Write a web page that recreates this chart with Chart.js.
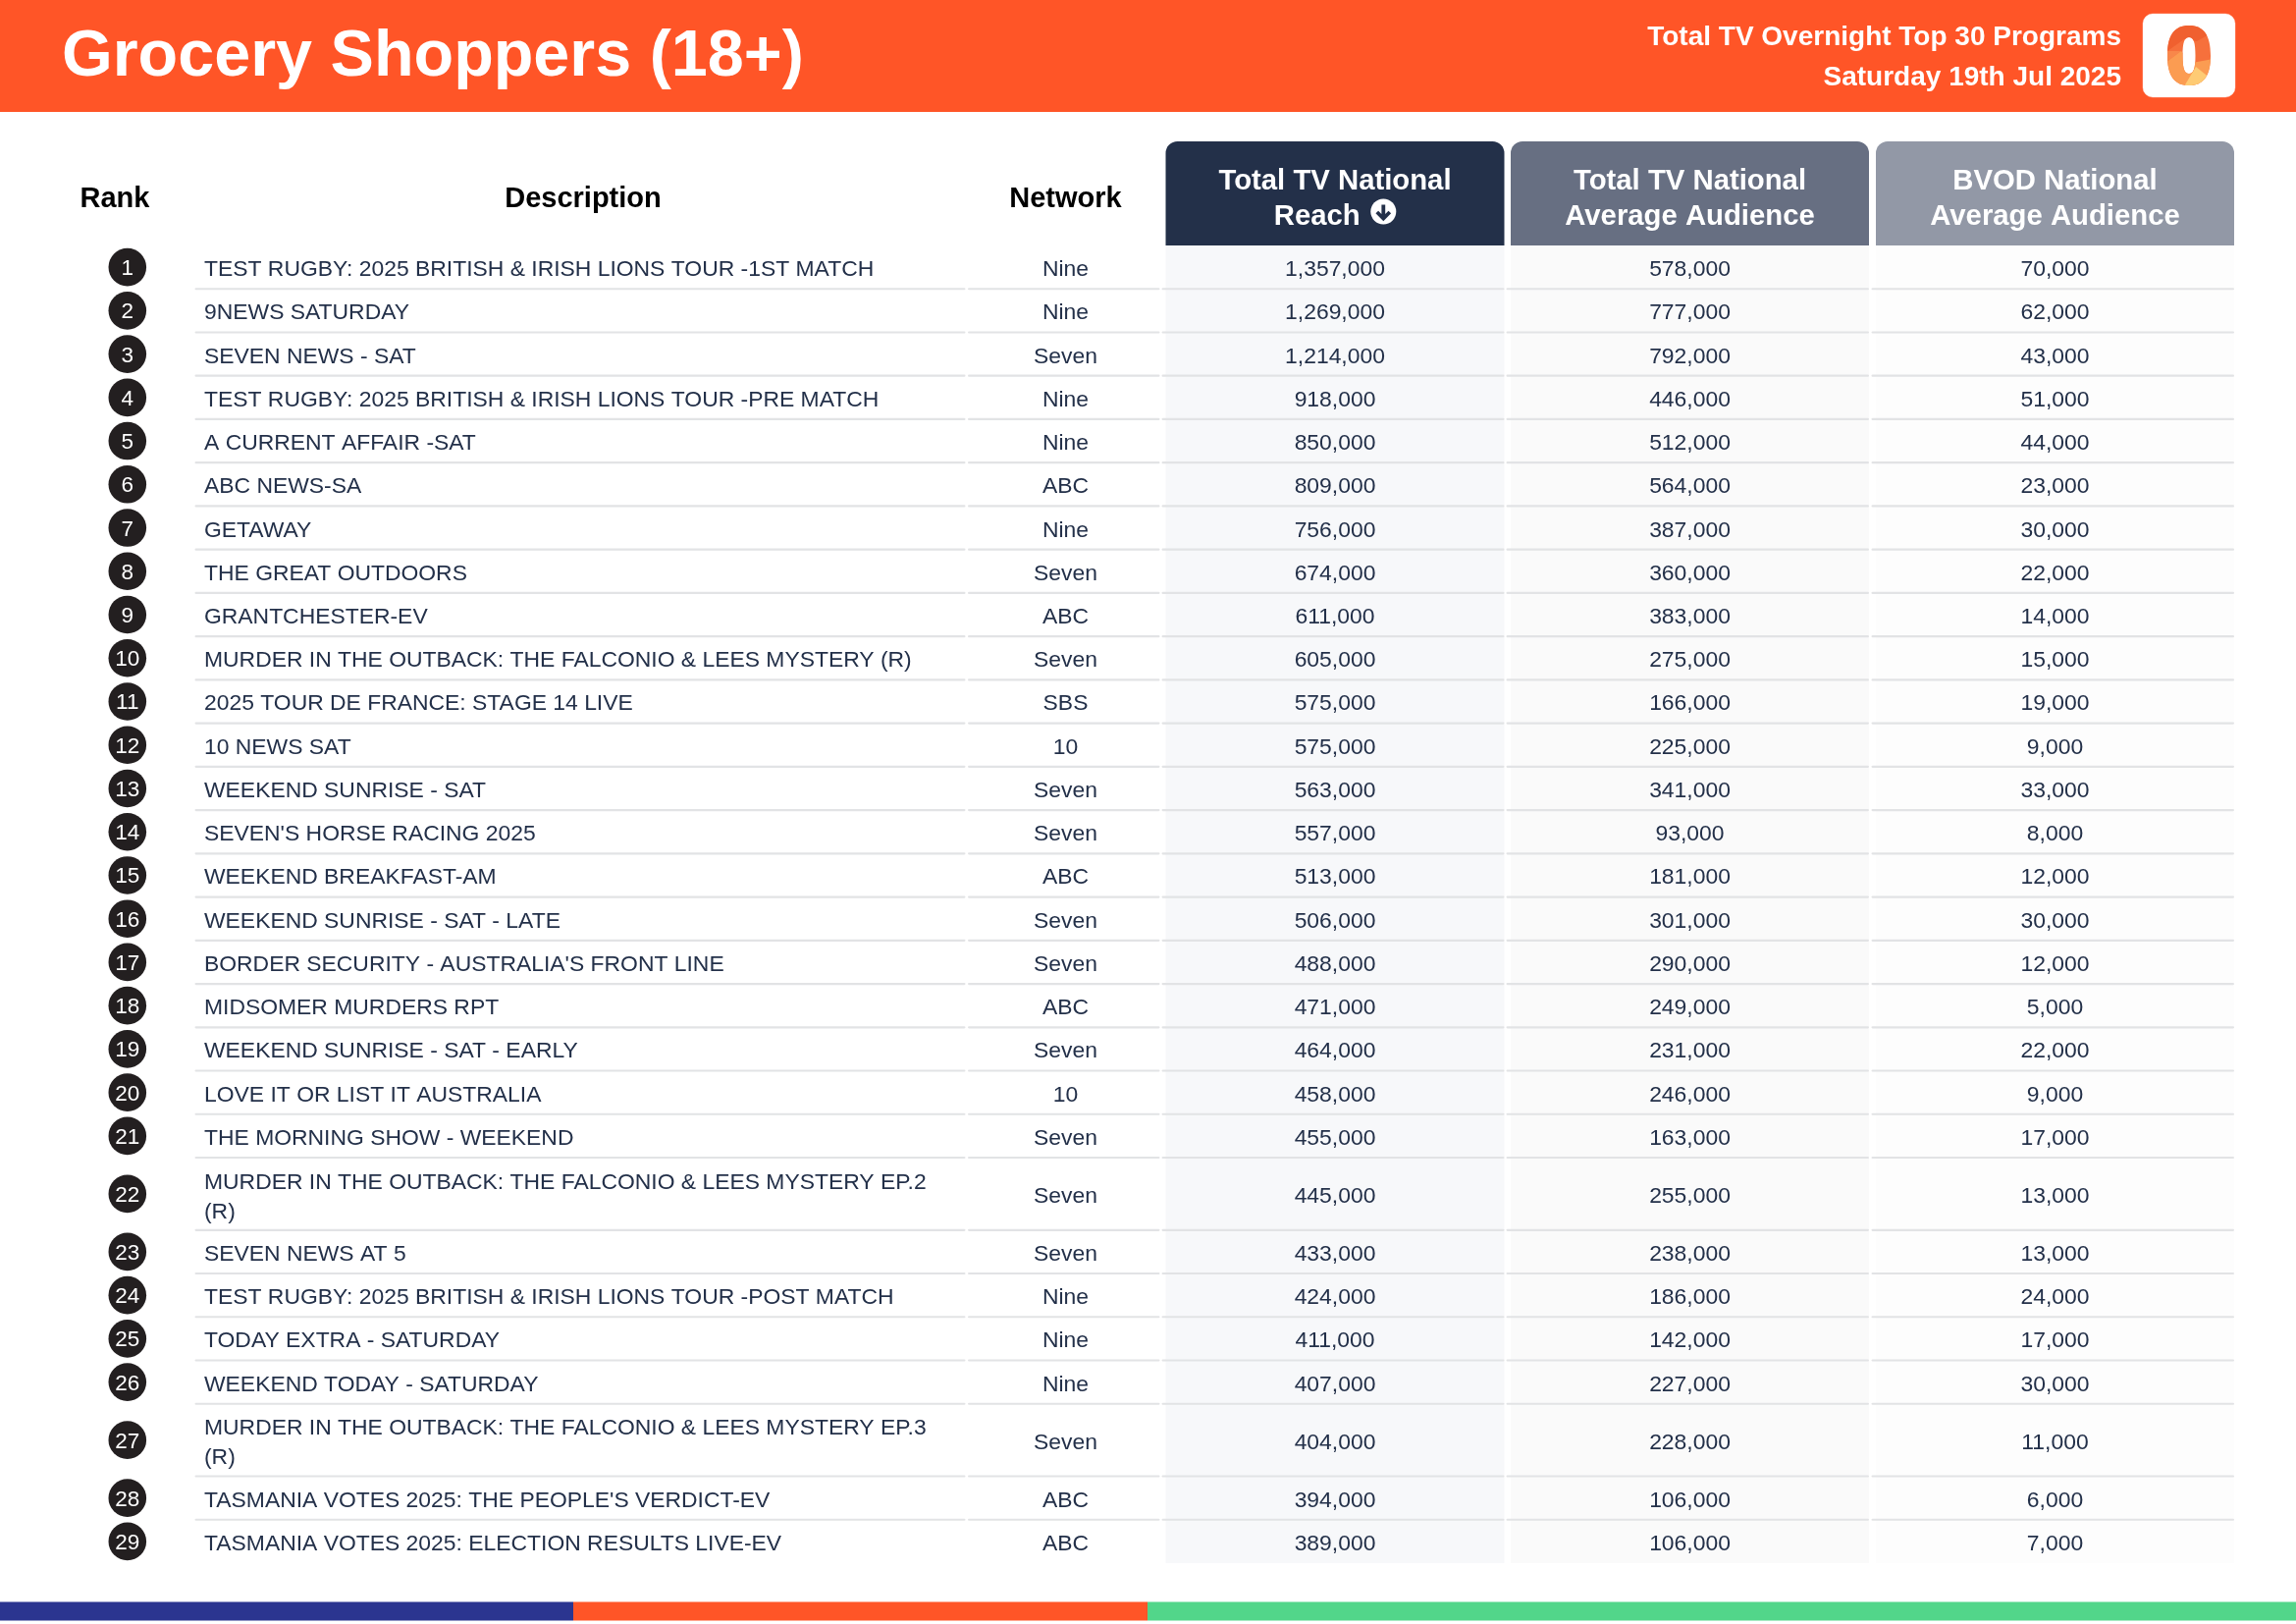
<!DOCTYPE html>
<html>
<head>
<meta charset="utf-8">
<title>Grocery Shoppers (18+)</title>
<style>
	html, body { margin: 0; padding: 0; background: #fff; }
	canvas { display: block; }
</style>
<script src="https://cdn.jsdelivr.net/npm/chart.js@4/dist/chart.umd.min.js"></script>
</head>
<body>
<canvas id="chart" width="2339" height="1654"></canvas>
<script>
const pageTitle = 'Grocery Shoppers (18+)';
const subtitle = ['Total TV Overnight Top 30 Programs', 'Saturday 19th Jul 2025'];
const plainHeaders = ['Rank', 'Description', 'Network'];
const metricHeaders = [
	['Total TV National', 'Reach'],
	['Total TV National', 'Average Audience'],
	['BVOD National', 'Average Audience'],
];

const ranks = [1, 2, 3, 4, 5, 6, 7, 8, 9, 10, 11, 12, 13, 14, 15, 16, 17, 18, 19, 20, 21, 22, 23, 24, 25, 26, 27, 28, 29];

const descriptions = [
	'TEST RUGBY: 2025 BRITISH & IRISH LIONS TOUR -1ST MATCH',
	'9NEWS SATURDAY',
	'SEVEN NEWS - SAT',
	'TEST RUGBY: 2025 BRITISH & IRISH LIONS TOUR -PRE MATCH',
	'A CURRENT AFFAIR -SAT',
	'ABC NEWS-SA',
	'GETAWAY',
	'THE GREAT OUTDOORS',
	'GRANTCHESTER-EV',
	'MURDER IN THE OUTBACK: THE FALCONIO & LEES MYSTERY (R)',
	'2025 TOUR DE FRANCE: STAGE 14 LIVE',
	'10 NEWS SAT',
	'WEEKEND SUNRISE - SAT',
	"SEVEN'S HORSE RACING 2025",
	'WEEKEND BREAKFAST-AM',
	'WEEKEND SUNRISE - SAT - LATE',
	"BORDER SECURITY - AUSTRALIA'S FRONT LINE",
	'MIDSOMER MURDERS RPT',
	'WEEKEND SUNRISE - SAT - EARLY',
	'LOVE IT OR LIST IT AUSTRALIA',
	'THE MORNING SHOW - WEEKEND',
	'MURDER IN THE OUTBACK: THE FALCONIO & LEES MYSTERY EP.2 (R)',
	'SEVEN NEWS AT 5',
	'TEST RUGBY: 2025 BRITISH & IRISH LIONS TOUR -POST MATCH',
	'TODAY EXTRA - SATURDAY',
	'WEEKEND TODAY - SATURDAY',
	'MURDER IN THE OUTBACK: THE FALCONIO & LEES MYSTERY EP.3 (R)',
	"TASMANIA VOTES 2025: THE PEOPLE'S VERDICT-EV",
	'TASMANIA VOTES 2025: ELECTION RESULTS LIVE-EV',
];

const networks = ['Nine', 'Nine', 'Seven', 'Nine', 'Nine', 'ABC', 'Nine', 'Seven', 'ABC', 'Seven', 'SBS', '10', 'Seven', 'Seven', 'ABC', 'Seven', 'Seven', 'ABC', 'Seven', '10', 'Seven', 'Seven', 'Seven', 'Nine', 'Nine', 'Nine', 'Seven', 'ABC', 'ABC'];

const reach = [1357000, 1269000, 1214000, 918000, 850000, 809000, 756000, 674000, 611000, 605000, 575000, 575000, 563000, 557000, 513000, 506000, 488000, 471000, 464000, 458000, 455000, 445000, 433000, 424000, 411000, 407000, 404000, 394000, 389000];
const averageAudience = [578000, 777000, 792000, 446000, 512000, 564000, 387000, 360000, 383000, 275000, 166000, 225000, 341000, 93000, 181000, 301000, 290000, 249000, 231000, 246000, 163000, 255000, 238000, 186000, 142000, 227000, 228000, 106000, 106000];
const bvodAudience = [70000, 62000, 43000, 51000, 44000, 23000, 30000, 22000, 14000, 15000, 19000, 9000, 33000, 8000, 12000, 30000, 12000, 5000, 22000, 9000, 17000, 13000, 13000, 24000, 17000, 30000, 11000, 6000, 7000];

const FONT = '"Liberation Sans", Arial, sans-serif';
const INK = '#233049';
const CELL_FONT = `22.9px ${FONT}`;

// x positions on the 0-2339 x axis
const RANK_X = 129.8;
const DESC_X = 208;
const NETWORK_X = 1085.5;
const metricCols = [
	{ left: 1187.5, right: 1532.5, ruleLeft: 1183.5, head: '#233049', body: '#f7f8fa' },
	{ left: 1539, right: 1904, ruleLeft: 1534.5, head: '#676f82', body: '#fafafa' },
	{ left: 1911, right: 2276, ruleLeft: 1906.5, head: '#9298a6', body: '#fdfdfd' },
];
const metricCenter = col => (col.left + col.right) / 2;

// long titles wrap onto a second line and the row grows
const measureCtx = document.createElement('canvas').getContext('2d');
measureCtx.font = CELL_FONT;

function wrapText(text, maxWidth) {
	const lines = [''];
	text.split(' ').forEach((word) => {
		const next = lines[lines.length - 1] ? `${lines[lines.length - 1]} ${word}` : word;
		if (measureCtx.measureText(next).width > maxWidth) {
			lines.push(word);
		} else {
			lines[lines.length - 1] = next;
		}
	});
	return lines;
}

const wrapped = descriptions.map(d => wrapText(d, 760));

// y axis counts rows, a two line row is 1.668 rows tall
const rowEdges = [0];
wrapped.forEach((lines) => {
	rowEdges.push(rowEdges[rowEdges.length - 1] + (lines.length > 1 ? 1.668 : 1));
});
const rowCenters = ranks.map((_, i) => (rowEdges[i] + rowEdges[i + 1]) / 2);

const column = (label, x, values, extra) => ({
	label,
	data: values.map((value, i) => ({ x, y: rowCenters[i], text: value })),
	pointRadius: 0,
	...extra,
});

const money = v => v.toLocaleString('en-US');

const datasets = [
	column('Rank', RANK_X, ranks, {
		pointRadius: 19.3,
		pointBackgroundColor: '#231f20',
		pointBorderWidth: 0,
		cellColor: '#fff',
		cellFont: `22.5px ${FONT}`,
		cellAlign: 'center',
		cellDrop: 8,
	}),
	column('Description', DESC_X, wrapped, { cellAlign: 'left' }),
	column('Network', NETWORK_X, networks, { cellAlign: 'center' }),
	column('Reach', metricCenter(metricCols[0]), reach.map(money), { cellAlign: 'center' }),
	column('Average Audience', metricCenter(metricCols[1]), averageAudience.map(money), { cellAlign: 'center' }),
	column('BVOD Audience', metricCenter(metricCols[2]), bvodAudience.map(money), { cellAlign: 'center' }),
];

function roundTop(ctx, x, y, w, h, r) {
	ctx.beginPath();
	ctx.roundRect(x, y, w, h, [r, r, 0, 0]);
	ctx.fill();
}

// squarer than an ellipse, closer to the bold zero in the logo
function ovalPath(ctx, cx, cy, rx, ry, k) {
	const kx = rx * k;
	const ky = ry * k;
	ctx.moveTo(cx, cy - ry);
	ctx.bezierCurveTo(cx + kx, cy - ry, cx + rx, cy - ky, cx + rx, cy);
	ctx.bezierCurveTo(cx + rx, cy + ky, cx + kx, cy + ry, cx, cy + ry);
	ctx.bezierCurveTo(cx - kx, cy + ry, cx - rx, cy + ky, cx - rx, cy);
	ctx.bezierCurveTo(cx - rx, cy - ky, cx - kx, cy - ry, cx, cy - ry);
	ctx.closePath();
}

function drawLogo(ctx) {
	ctx.fillStyle = '#fff';
	ctx.beginPath();
	ctx.roundRect(2183, 14, 94, 85, 10);
	ctx.fill();
	ctx.strokeStyle = 'rgba(255, 255, 255, 0.35)';
	ctx.lineWidth = 1;
	ctx.stroke();

	ctx.save();
	ctx.beginPath();
	ovalPath(ctx, 2230, 56.5, 22, 30.5, 0.68);
	ovalPath(ctx, 2230, 56.5, 6.5, 18.5, 0.72);
	ctx.clip('evenodd');
	const facet = (color, points) => {
		ctx.fillStyle = color;
		ctx.beginPath();
		points.forEach(([x, y], i) => (i ? ctx.lineTo(x, y) : ctx.moveTo(x, y)));
		ctx.closePath();
		ctx.fill();
	};
	ctx.fillStyle = '#f6703c';
	ctx.fillRect(2200, 20, 60, 70);
	facet('#f0602f', [[2206, 22], [2254, 22], [2254, 33], [2238, 42], [2225, 40], [2208, 52]]);
	facet('#f8874a', [[2206, 52], [2222, 52], [2206, 64]]);
	facet('#fb9c52', [[2206, 64], [2222, 52], [2233, 64], [2254, 60], [2254, 90], [2206, 90]]);
	facet('#fecb74', [[2225, 88], [2237, 68], [2252, 80], [2247, 90]]);
	ctx.restore();
}

function drawArrowBadge(ctx, x, y, color) {
	ctx.fillStyle = '#fff';
	ctx.beginPath();
	ctx.arc(x, y, 13, 0, Math.PI * 2);
	ctx.fill();
	ctx.strokeStyle = color;
	ctx.lineWidth = 3.8;
	ctx.lineCap = 'butt';
	ctx.lineJoin = 'miter';
	ctx.beginPath();
	ctx.moveTo(x, y - 7);
	ctx.lineTo(x, y + 6);
	ctx.moveTo(x - 6.5, y + 0.5);
	ctx.lineTo(x, y + 7);
	ctx.lineTo(x + 6.5, y + 0.5);
	ctx.stroke();
}

const tablePlugin = {
	id: 'table',
	beforeDatasetsDraw(chart) {
		const { ctx, scales: { x, y } } = chart;
		const px = v => x.getPixelForValue(v);
		const top = y.getPixelForValue(0);
		const bottom = y.getPixelForValue(rowEdges[rowEdges.length - 1]);

		ctx.save();
		ctx.fillStyle = '#fff';
		ctx.fillRect(0, 0, 2339, 1654);

		// banner
		ctx.fillStyle = '#ff5527';
		ctx.fillRect(0, 0, 2339, 114);
		ctx.fillStyle = '#fff';
		ctx.textBaseline = 'alphabetic';
		ctx.textAlign = 'left';
		ctx.font = `bold 66.5px ${FONT}`;
		ctx.fillText(pageTitle, 63, 77);
		ctx.textAlign = 'right';
		ctx.font = `bold 28px ${FONT}`;
		ctx.fillText(subtitle[0], 2161, 46);
		ctx.fillText(subtitle[1], 2161, 87);
		drawLogo(ctx);

		// plain column heads
		ctx.textAlign = 'center';
		ctx.fillStyle = '#000';
		ctx.font = `bold 29px ${FONT}`;
		[117, 594, NETWORK_X].forEach((cx, i) => ctx.fillText(plainHeaders[i], px(cx), 210.7));

		// metric column heads and bodies
		metricCols.forEach((col, i) => {
			ctx.fillStyle = col.body;
			ctx.fillRect(px(col.left), top, col.right - col.left, bottom - top);
			ctx.fillStyle = col.head;
			roundTop(ctx, px(col.left), 144, col.right - col.left, 106, 12);

			ctx.fillStyle = '#fff';
			ctx.font = `bold 29.3px ${FONT}`;
			const cx = px(metricCenter(col));
			ctx.fillText(metricHeaders[i][0], cx, 192.8);
			if (i === 0) {
				ctx.fillText(metricHeaders[i][1], cx - 18.2, 228.8);
				drawArrowBadge(ctx, cx + 49.3, 215.5, col.head);
			} else {
				ctx.fillText(metricHeaders[i][1], cx, 228.8);
			}
		});

		// row rules, one per column block so the gaps stay open
		const blocks = [[198.5, 983.5], [986, 1181.5], ...metricCols.map(c => [c.ruleLeft, c.right])];
		ctx.fillStyle = '#e2e3e5';
		rowEdges.slice(1, -1).forEach((edge) => {
			const ry = y.getPixelForValue(edge);
			blocks.forEach(([a, b]) => {
				ctx.beginPath();
				ctx.roundRect(px(a), ry - 1.1, b - a, 2.2, 1.1);
				ctx.fill();
			});
		});

		// footer strip
		[['#2b3590', 0, 584], ['#ff5527', 584, 1169], ['#52d68a', 1169, 2339]].forEach(([color, a, b]) => {
			ctx.fillStyle = color;
			ctx.fillRect(a, 1631.5, b - a, 19);
		});
		ctx.restore();
	},
	afterDatasetsDraw(chart) {
		const { ctx } = chart;
		ctx.save();
		ctx.textBaseline = 'alphabetic';
		chart.data.datasets.forEach((dataset, d) => {
			const points = chart.getDatasetMeta(d).data;
			const drop = dataset.cellDrop || 9;
			ctx.fillStyle = dataset.cellColor || INK;
			ctx.font = dataset.cellFont || CELL_FONT;
			ctx.textAlign = dataset.cellAlign;
			points.forEach((point, i) => {
				const text = dataset.data[i].text;
				const lines = Array.isArray(text) ? text : [String(text)];
				lines.forEach((line, l) => {
					const offset = (l - (lines.length - 1) / 2) * 30 + (lines.length > 1 ? 0.7 : 0);
					ctx.fillText(line, point.x, point.y + offset + drop);
				});
			});
		});
		ctx.restore();
	},
};

new Chart(document.getElementById('chart'), {
	type: 'scatter',
	data: { datasets },
	options: {
		responsive: false,
		animation: false,
		devicePixelRatio: 1,
		layout: { autoPadding: false, padding: { top: 250, bottom: 62, left: 0, right: 0 } },
		scales: {
			x: { type: 'linear', min: 0, max: 2339, display: false },
			y: { type: 'linear', reverse: true, min: 0, max: rowEdges[rowEdges.length - 1], display: false },
		},
		plugins: {
			legend: { display: false },
			tooltip: { enabled: false },
		},
	},
	plugins: [tablePlugin],
});
</script>
</body>
</html>
